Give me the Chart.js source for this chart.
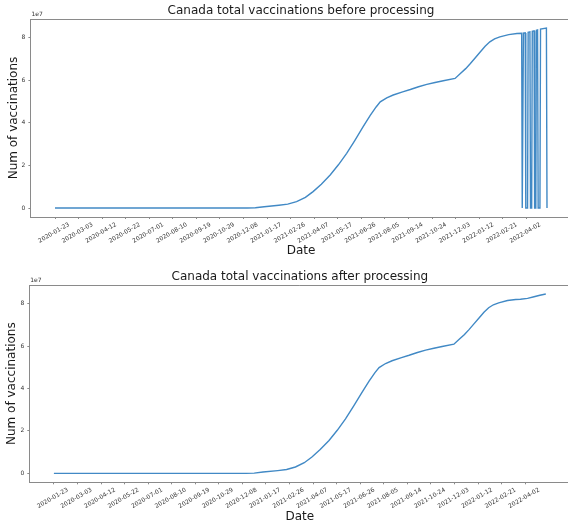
<!DOCTYPE html>
<html>
<head>
<meta charset="utf-8">
<script src="https://cdn.jsdelivr.net/npm/chart.js@4.4.1/dist/chart.umd.min.js"></script>
<style>
html, body { margin:0; padding:0; overflow:hidden; background:#fff; width:568px; height:526px; }
.box { position:absolute; left:0; width:580px; height:263px; }
</style>
</head>
<body>
<div class="box" style="top:0"><canvas id="before"></canvas></div>
<div class="box" style="top:263px"><canvas id="after"></canvas></div>
<script>
// total vaccinations, processed
var dates = ['2020-01-23','2020-12-14','2020-12-28','2021-01-12','2021-02-06','2021-02-21','2021-03-08',
  '2021-03-23','2021-04-05','2021-04-19','2021-05-04','2021-05-18','2021-06-01','2021-06-15','2021-06-29',
  '2021-07-11','2021-07-21','2021-07-28','2021-08-08','2021-08-19','2021-09-04','2021-09-17','2021-10-01',
  '2021-10-15','2021-10-29','2021-11-12','2021-12-02','2021-12-11','2021-12-20','2021-12-28','2022-01-05',
  '2022-01-14','2022-01-22','2022-01-30','2022-02-07','2022-02-16','2022-03-03','2022-03-17','2022-03-25',
  '2022-04-06','2022-04-17','2022-04-27','2022-05-07'];
var vaccinations = [0,0,100000,600000,1300000,1800000,3000000,
  5000000,7700000,11200000,15500000,20300000,25700000,31800000,38200000,
  43500000,47500000,49900000,51800000,53100000,54600000,55700000,57000000,
  58100000,59000000,59800000,60900000,63200000,65500000,67900000,70500000,
  73400000,76000000,78100000,79500000,80400000,81500000,82000000,82100000,
  82500000,83300000,84000000,84600000];

// raw tail before processing: missing days show up as 0
var rawTailDates = ['2022-03-25','2022-03-26','2022-03-27','2022-03-28','2022-03-31','2022-04-01','2022-04-04',
  '2022-04-05','2022-04-08','2022-04-09','2022-04-11','2022-04-12','2022-04-15','2022-04-16','2022-04-18',
  '2022-04-19','2022-04-21','2022-04-22','2022-04-25','2022-04-26','2022-05-06','2022-05-07'];
var rawTailVaccinations = [82100000,0,0,82200000,82300000,0,0,
  82600000,82800000,0,0,83100000,83300000,0,0,
  83500000,83700000,0,0,84100000,84600000,0];

var xTickDates = ['2020-01-23','2020-03-03','2020-04-12','2020-05-22','2020-07-01','2020-08-10','2020-09-19',
  '2020-10-29','2020-12-08','2021-01-17','2021-02-26','2021-04-07','2021-05-17','2021-06-26','2021-08-05',
  '2021-09-14','2021-10-24','2021-12-03','2022-01-12','2022-02-21','2022-04-02'];
var yTicks = [0, 20000000, 40000000, 60000000, 80000000];

var spine = '#8a8a8a';
var lineColor = '#4189c5';
var font = 'DejaVu Sans';

function dayOf(s) {
  var p = s.split('-');
  return (Date.UTC(+p[0], p[1] - 1, +p[2]) - Date.UTC(2020, 0, 23)) / 86400000;
}

var afterPts = dates.map(function(d, i) { return {x: dayOf(d), y: vaccinations[i]}; });
var beforePts = afterPts.filter(function(p) { return p.x < dayOf(rawTailDates[0]); })
  .concat(rawTailDates.map(function(d, i) { return {x: dayOf(d), y: rawTailVaccinations[i]}; }));

var xTickDays = xTickDates.map(dayOf);
var span = dayOf(rawTailDates[rawTailDates.length - 1]);
var ymax = Math.max.apply(null, vaccinations);

var extras = {
  id: 'extras',
  afterDraw: function(chart) {
    var a = chart.chartArea, ctx = chart.ctx;
    ctx.save();
    ctx.strokeStyle = spine;
    ctx.lineWidth = 1;
    ctx.beginPath();
    ctx.moveTo(a.left, a.top + 0.5);
    ctx.lineTo(a.right, a.top + 0.5);
    ctx.stroke();
    ctx.fillStyle = '#333';
    ctx.font = '6px "' + font + '"';
    ctx.textAlign = 'left';
    ctx.textBaseline = 'bottom';
    ctx.fillText('1e7', a.left + 1, a.top - 1.5);
    ctx.restore();
  }
};

function makeChart(id, title, pts, lay) {
  return new Chart(document.getElementById(id), {
    type: 'line',
    data: {
      datasets: [{
        data: pts,
        borderColor: lineColor,
        borderWidth: 1.4,
        pointRadius: 0,
        tension: 0,
        fill: false
      }]
    },
    options: {
      responsive: true,
      maintainAspectRatio: false,
      animation: false,
      layout: { padding: { left: 0, right: 580 - lay.right, top: 0, bottom: 0 } },
      plugins: {
        legend: { display: false },
        tooltip: { enabled: false },
        title: {
          display: true,
          fullSize: false,
          text: title,
          color: '#1a1a1a',
          font: { family: font, size: 12, weight: 'normal' },
          padding: { top: lay.titleTop, bottom: 0.6 }
        }
      },
      scales: {
        x: {
          type: 'linear',
          min: -0.05 * span,
          max: span * 1.05,
          afterBuildTicks: function(s) { s.ticks = xTickDays.map(function(v) { return {value: v}; }); },
          afterFit: function(s) { s.height = lay.xHeight; },
          ticks: {
            autoSkip: false,
            minRotation: 30,
            maxRotation: 30,
            labelOffset: 14,
            padding: 2,
            color: '#333',
            font: { family: font, size: 6 },
            callback: function(v, i) { return xTickDates[i]; }
          },
          grid: { display: true, drawOnChartArea: false, drawTicks: true, tickLength: 2, color: spine },
          border: { display: true, color: spine, width: 1 },
          title: {
            display: true,
            text: 'Date',
            color: '#1a1a1a',
            font: { family: font, size: 12 },
            padding: { top: 0, bottom: lay.xTitleBottom }
          }
        },
        y: {
          type: 'linear',
          min: -0.05 * ymax,
          max: ymax * 1.05,
          afterBuildTicks: function(s) { s.ticks = yTicks.map(function(v) { return {value: v}; }); },
          afterFit: function(s) { s.width = lay.yWidth; },
          ticks: {
            padding: 3,
            color: '#333',
            font: { family: font, size: 6 },
            callback: function(v) { return String(v / 1e7); }
          },
          grid: { display: true, drawOnChartArea: false, drawTicks: true, tickLength: 2, color: spine },
          border: { display: true, color: spine, width: 1 },
          title: {
            display: true,
            text: 'Num of vaccinations',
            color: '#1a1a1a',
            font: { family: font, size: 12 },
            padding: { top: lay.yTitleTop, bottom: 0 }
          }
        }
      }
    },
    plugins: [extras]
  });
}

makeChart('before', 'Canada total vaccinations before processing', beforePts,
  { right: 571.6, titleTop: 4, xHeight: 46, xTitleBottom: 4.8, yWidth: 30.4, yTitleTop: 6.8 });
makeChart('after', 'Canada total vaccinations after processing', afterPts,
  { right: 570.4, titleTop: 7, xHeight: 43.7, xTitleBottom: 1.8, yWidth: 29.3, yTitleTop: 4.8 });
</script>
</body>
</html>
